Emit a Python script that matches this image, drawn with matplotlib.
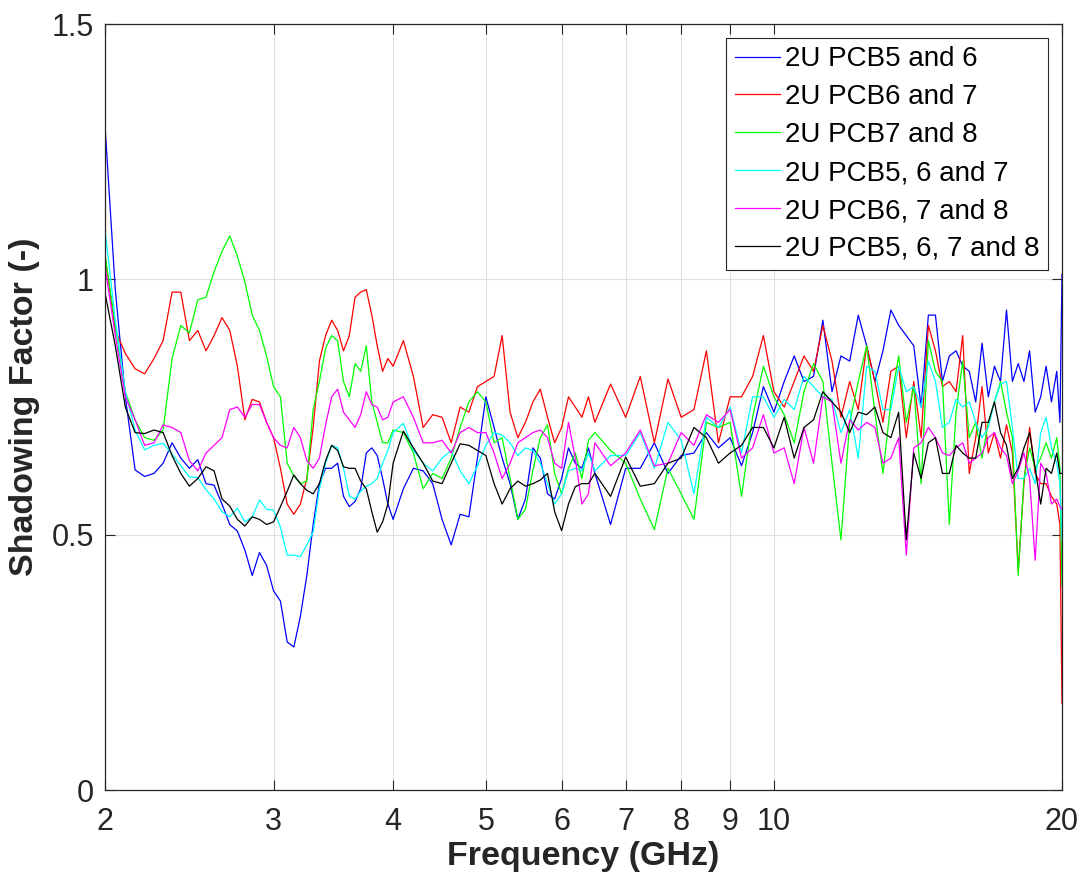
import matplotlib
matplotlib.use("Agg")
import matplotlib.pyplot as plt
from matplotlib.ticker import FixedLocator, FixedFormatter, NullLocator

plt.rcParams["font.family"] = ["Liberation Sans", "DejaVu Sans"]

freq = [2.0, 2.05, 2.1, 2.15, 2.2, 2.25, 2.3, 2.35, 2.4, 2.45, 2.5, 2.55, 2.6, 2.65, 2.7, 2.75, 2.8, 2.85, 2.9, 2.95,
        3.0, 3.05, 3.1, 3.15, 3.2, 3.25, 3.3, 3.35, 3.4, 3.45, 3.5, 3.55, 3.6, 3.65, 3.7, 3.75, 3.8, 3.85, 3.9, 3.95,
        4.0, 4.1, 4.2, 4.3, 4.4, 4.5, 4.6, 4.7, 4.8, 4.9, 5.0, 5.1, 5.2, 5.3, 5.4, 5.5, 5.6, 5.7, 5.8, 5.9,
        6.0, 6.1, 6.2, 6.3, 6.4,
        6.5, 6.75, 7.0, 7.25, 7.5, 7.75, 8.0, 8.25, 8.5, 8.75, 9.0, 9.25, 9.5, 9.75, 10.0,
        10.25, 10.5, 10.75, 11.0, 11.25, 11.5, 11.75, 12.0, 12.25, 12.5, 12.75, 13.0, 13.25, 13.5, 13.75, 14.0,
        14.25, 14.5, 14.75, 15.0, 15.25, 15.5, 15.75, 16.0, 16.25, 16.5, 16.75, 17.0, 17.25, 17.5, 17.75, 18.0,
        18.25, 18.5, 18.75, 19.0, 19.25, 19.5, 19.75,
        19.9, 20.0]

pcb56 = [1.30, 0.98, 0.77, 0.627, 0.614, 0.62, 0.64, 0.68, 0.65, 0.63, 0.647, 0.60, 0.597, 0.56, 0.52, 0.507, 0.47, 0.42, 0.465, 0.44,
         0.39, 0.37, 0.29, 0.28, 0.34, 0.42, 0.52, 0.60, 0.63, 0.63, 0.64, 0.575, 0.555, 0.565, 0.59, 0.66, 0.67, 0.655, 0.61, 0.56,
         0.53, 0.59, 0.63, 0.625, 0.60, 0.53, 0.48, 0.54, 0.535, 0.65, 0.77, 0.71, 0.65, 0.60, 0.53, 0.57, 0.67, 0.65, 0.58, 0.57,
         0.61, 0.67, 0.64, 0.63, 0.67,
         0.62, 0.52, 0.63, 0.63, 0.68, 0.62, 0.655, 0.66, 0.70, 0.67, 0.69, 0.635, 0.70, 0.79, 0.74,
         0.80, 0.85, 0.80, 0.81, 0.92, 0.78, 0.85, 0.84, 0.93, 0.87, 0.80, 0.86, 0.94, 0.91, 0.89, 0.87,
         0.75, 0.93, 0.93, 0.80, 0.85, 0.86, 0.83, 0.82, 0.76, 0.875, 0.77, 0.83, 0.80, 0.94, 0.80, 0.835,
         0.80, 0.86, 0.74, 0.77, 0.83, 0.76, 0.82,
         0.72, 1.01]

pcb67 = [1.045, 0.90, 0.855, 0.825, 0.815, 0.845, 0.88, 0.975, 0.975, 0.88, 0.90, 0.86, 0.89, 0.925, 0.90, 0.83, 0.725, 0.765, 0.76, 0.72,
         0.69, 0.63, 0.56, 0.54, 0.56, 0.61, 0.71, 0.84, 0.89, 0.92, 0.90, 0.86, 0.89, 0.965, 0.975, 0.98, 0.93, 0.87, 0.82, 0.845,
         0.83, 0.88, 0.81, 0.71, 0.735, 0.73, 0.68, 0.75, 0.74, 0.79, 0.80, 0.81, 0.89, 0.74, 0.69, 0.72, 0.76, 0.785, 0.73, 0.68,
         0.71, 0.77, 0.75, 0.73, 0.77,
         0.72, 0.795, 0.73, 0.81, 0.68, 0.805, 0.73, 0.745, 0.86, 0.68, 0.77, 0.77, 0.81, 0.89, 0.78,
         0.75, 0.80, 0.85, 0.82, 0.91, 0.84, 0.73, 0.80, 0.745, 0.87, 0.80, 0.72, 0.82, 0.83, 0.69, 0.80,
         0.69, 0.91, 0.86, 0.79, 0.80, 0.78, 0.89, 0.62, 0.69, 0.79, 0.66, 0.70, 0.65, 0.715, 0.66, 0.43,
         0.60, 0.71, 0.62, 0.60, 0.60, 0.575, 0.56,
         0.52, 0.17]

pcb78 = [1.048, 0.91, 0.78, 0.725, 0.69, 0.685, 0.705, 0.845, 0.91, 0.895, 0.96, 0.965, 1.015, 1.055, 1.085, 1.045, 0.995, 0.93, 0.90, 0.85,
         0.79, 0.77, 0.64, 0.615, 0.60, 0.605, 0.745, 0.80, 0.865, 0.89, 0.88, 0.80, 0.77, 0.835, 0.82, 0.87, 0.76, 0.72, 0.68, 0.68,
         0.705, 0.70, 0.66, 0.59, 0.62, 0.61, 0.65, 0.71, 0.76, 0.78, 0.76, 0.68, 0.69, 0.61, 0.53, 0.55, 0.627, 0.69, 0.715, 0.62,
         0.58, 0.63, 0.66, 0.61, 0.685,
         0.70, 0.665, 0.64, 0.57, 0.51, 0.63, 0.58, 0.53, 0.72, 0.71, 0.72, 0.575, 0.73, 0.83, 0.77,
         0.735, 0.68, 0.78, 0.835, 0.80, 0.64, 0.49, 0.72, 0.80, 0.87, 0.74, 0.62, 0.76, 0.85, 0.72, 0.79,
         0.60, 0.88, 0.82, 0.80, 0.52, 0.74, 0.84, 0.69, 0.72, 0.65, 0.72, 0.76, 0.80, 0.74, 0.69, 0.42,
         0.61, 0.67, 0.63, 0.65, 0.68, 0.65, 0.69,
         0.63, 0.40]

pcb567 = [1.097, 0.92, 0.78, 0.705, 0.666, 0.675, 0.679, 0.658, 0.635, 0.613, 0.612, 0.588, 0.57, 0.545, 0.535, 0.552, 0.525, 0.535, 0.568, 0.55,
          0.548, 0.515, 0.46, 0.46, 0.457, 0.48, 0.505, 0.59, 0.64, 0.675, 0.67, 0.63, 0.575, 0.57, 0.585, 0.595, 0.60, 0.61, 0.64, 0.665,
          0.70, 0.718, 0.665, 0.64, 0.625, 0.65, 0.665, 0.625, 0.60, 0.635, 0.675, 0.70, 0.695, 0.68, 0.655, 0.67, 0.665, 0.64, 0.60, 0.56,
          0.58, 0.625, 0.63, 0.625, 0.66,
          0.625, 0.655, 0.655, 0.70, 0.63, 0.72, 0.685, 0.58, 0.73, 0.71, 0.75, 0.66, 0.77, 0.77, 0.73,
          0.765, 0.745, 0.81, 0.79, 0.77, 0.765, 0.70, 0.745, 0.65, 0.83, 0.82, 0.745, 0.745, 0.83, 0.78, 0.79,
          0.75, 0.84, 0.80, 0.71, 0.72, 0.765, 0.75, 0.76, 0.72, 0.69, 0.71, 0.76, 0.795, 0.80, 0.71, 0.61,
          0.61, 0.63, 0.60, 0.70, 0.73, 0.67, 0.64,
          0.60, 0.49]

pcb678 = [1.025, 0.89, 0.77, 0.725, 0.675, 0.68, 0.715, 0.71, 0.70, 0.645, 0.625, 0.66, 0.675, 0.69, 0.745, 0.75, 0.73, 0.755, 0.755, 0.72,
          0.69, 0.675, 0.67, 0.71, 0.69, 0.645, 0.63, 0.65, 0.715, 0.77, 0.785, 0.74, 0.725, 0.71, 0.735, 0.78, 0.755, 0.75, 0.725, 0.73,
          0.76, 0.77, 0.73, 0.68, 0.68, 0.685, 0.66, 0.70, 0.71, 0.70, 0.70, 0.66, 0.61, 0.64, 0.68, 0.69, 0.70, 0.705, 0.69, 0.64,
          0.63, 0.72, 0.65, 0.56, 0.58,
          0.68, 0.635, 0.66, 0.705, 0.635, 0.64, 0.70, 0.675, 0.735, 0.72, 0.745, 0.65, 0.67, 0.735, 0.66,
          0.67, 0.60, 0.71, 0.64, 0.77, 0.76, 0.64, 0.725, 0.705, 0.72, 0.71, 0.64, 0.65, 0.69, 0.46, 0.67,
          0.68, 0.71, 0.69, 0.66, 0.655, 0.67, 0.68, 0.64, 0.65, 0.66, 0.69, 0.70, 0.67, 0.655, 0.60, 0.625,
          0.66, 0.61, 0.45, 0.64, 0.62, 0.56, 0.57,
          0.555, 0.55]

pcb5678 = [0.973, 0.87, 0.75, 0.70, 0.698, 0.705, 0.70, 0.655, 0.62, 0.595, 0.61, 0.633, 0.625, 0.57, 0.556, 0.53, 0.517, 0.535, 0.53, 0.52,
           0.525, 0.555, 0.585, 0.617, 0.60, 0.587, 0.58, 0.60, 0.645, 0.675, 0.665, 0.633, 0.63, 0.63, 0.605, 0.59, 0.545, 0.505, 0.525, 0.56,
           0.64, 0.703, 0.67, 0.64, 0.605, 0.60, 0.64, 0.678, 0.675, 0.665, 0.655, 0.60, 0.56, 0.59, 0.605, 0.595, 0.60, 0.607, 0.62, 0.545,
           0.508, 0.56, 0.594, 0.60, 0.60,
           0.62, 0.575, 0.652, 0.595, 0.60, 0.64, 0.65, 0.71, 0.69, 0.64, 0.66, 0.675, 0.71, 0.71, 0.67,
           0.73, 0.65, 0.71, 0.725, 0.78, 0.76, 0.74, 0.70, 0.74, 0.735, 0.75, 0.70, 0.69, 0.74, 0.49, 0.66,
           0.61, 0.68, 0.69, 0.62, 0.62, 0.675, 0.66, 0.65, 0.65, 0.72, 0.72, 0.76, 0.70, 0.675, 0.61, 0.63,
           0.67, 0.70, 0.63, 0.56, 0.63, 0.62, 0.66,
           0.62, 0.62]

series = [pcb56, pcb67, pcb78, pcb567, pcb678, pcb5678]
colors = ["#0000ff", "#ff0000", "#00ff00", "#00ffff", "#ff00ff", "#000000"]
labels = ["2U PCB5 and 6", "2U PCB6 and 7", "2U PCB7 and 8",
          "2U PCB5, 6 and 7", "2U PCB6, 7 and 8", "2U PCB5, 6, 7 and 8"]

xticks = [2, 3, 4, 5, 6, 7, 8, 9, 10, 20]
yticks = [0, 0.5, 1, 1.5]

fig = plt.figure(figsize=(10.84, 8.84), dpi=100)
ax = fig.add_axes([0.0969, 0.1063, 0.8828, 0.8665])

for vals, c, lab in zip(series, colors, labels):
    ax.plot(freq, vals, color=c, lw=0.9, label=lab)

ax.set_xscale("log")
ax.set_xlim(2, 20)
ax.set_ylim(0, 1.5)
ax.xaxis.set_major_locator(FixedLocator(xticks))
ax.xaxis.set_major_formatter(FixedFormatter([str(t) for t in xticks]))
ax.xaxis.set_minor_locator(NullLocator())
ax.set_yticks(yticks)
ax.set_yticklabels(["0", "0.5", "1", "1.5"])

dark = "#262626"
ax.tick_params(direction="in", top=True, right=True, length=7, width=0.8,
               labelsize=22, colors=dark)
ax.tick_params(axis="x", pad=12)
ax.tick_params(axis="y", pad=8)
ax.grid(True, color="#dedede", lw=0.8)
for s in ax.spines.values():
    s.set_color(dark)
    s.set_linewidth(0.9)

ax.set_xlabel("Frequency (GHz)", fontsize=24.5, fontweight="bold", color=dark, labelpad=3)
ax.set_ylabel("Shadowing Factor (-)", fontsize=24.5, fontweight="bold", color=dark, labelpad=8)

leg = ax.legend(loc="upper right", fontsize=20, frameon=True, fancybox=False,
                edgecolor=dark, framealpha=1, borderaxespad=0.5, borderpad=0.3,
                labelspacing=0.43, handlelength=1.62, handletextpad=0.2)
leg.get_frame().set_linewidth(0.8)

fig.savefig("out.png", dpi=100)
